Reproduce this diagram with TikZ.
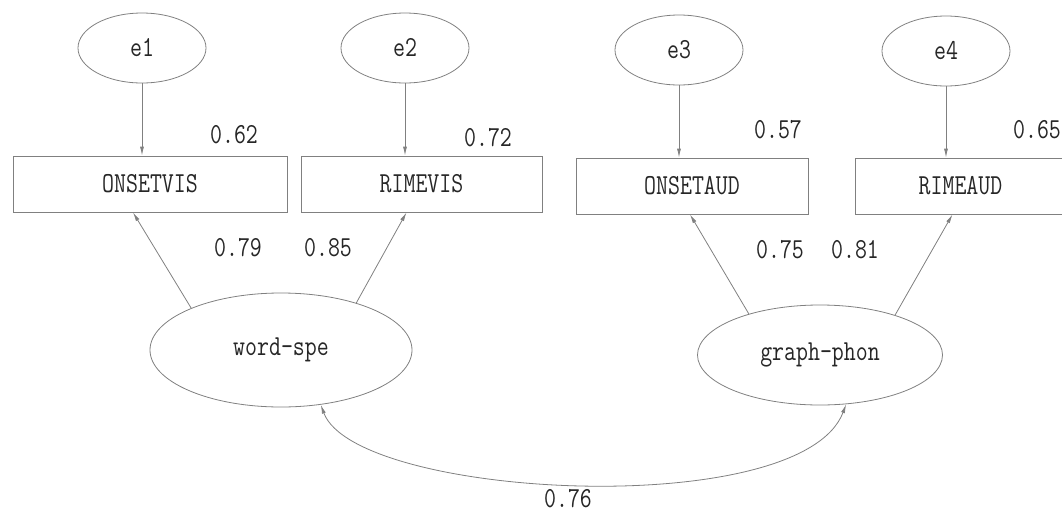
\documentclass[tikz,border=0pt]{standalone}
\usepackage{fontspec}
\setmainfont[FakeStretch=0.8]{Latin Modern Mono}
\usetikzlibrary{shapes.geometric,arrows.meta}

\begin{document}
\begin{tikzpicture}[x=0.5pt,y=-0.5pt,
        every node/.style={font=\fontsize{14.5}{17}\selectfont, text=black!85, inner sep=1pt},
        err/.style={ellipse, draw=gray, inner sep=0pt, minimum width=64pt, minimum height=35pt},
        obs/.style={rectangle, draw=gray, inner sep=0pt, minimum height=28pt},
        lat/.style={ellipse, draw=gray, inner sep=0pt},
        load/.style={draw=gray, -{Latex[length=4.5pt,width=2pt]}},
        cov/.style={draw=gray, {Latex[length=4.5pt,width=2pt]}-{Latex[length=4.5pt,width=2pt]}}]
        \useasboundingbox (0,0) rectangle (1062,515);
        % error terms
        \node[err] (e1) at (142,48) {e1};
        \node[err] (e2) at (405,48) {e2};
        \node[err] (e3) at (679,50) {e3};
        \node[err] (e4) at (946,51) {e4};
        % observed
        \node[obs, minimum width=137pt] (onsetvis) at (150,184) {ONSETVIS};
        \node[obs, minimum width=120.5pt] (rimevis) at (421.5,184) {RIMEVIS};
        \node[obs, minimum width=116pt] (onsetaud) at (692,186) {ONSETAUD};
        \node[obs, minimum width=105.5pt] (rimeaud) at (960.5,186) {RIMEAUD};
        % latent
        \node[lat, minimum width=131pt, minimum height=57pt] (wordspe) at (281,350) {word-spe};
        \node[lat, minimum width=122.5pt, minimum height=50pt] (graphphon) at (820,355) {graph-phon};
        % arrows
        \draw[load] (e1) -- (e1 |- onsetvis.north);
        \draw[load] (e2) -- (e2 |- rimevis.north);
        \draw[load] (e3) -- (e3 |- onsetaud.north);
        \draw[load] (e4) -- (e4 |- rimeaud.north);
        \draw[load] (wordspe.155) -- ([xshift=-8.5pt]onsetvis.south);
        \draw[load] (wordspe.32) -- ([xshift=-7.5pt]rimevis.south);
        \draw[load] (graphphon.150) -- ([xshift=-1pt]onsetaud.south);
        \draw[load] (graphphon.28) -- ([xshift=-4pt]rimeaud.south);
        \draw[cov] (wordspe.-54) .. controls +(35,94) and +(-45,118) .. (graphphon.-62);
        % values
        \node (r1) at (234,135) {0.62};
        \node (r2) at (488,138) {0.72};
        \node (r3) at (778,130) {0.57};
        \node (r4) at (1037,130) {0.65};
        \node (w1) at (238,248) {0.79};
        \node (w2) at (328,248) {0.85};
        \node (g1) at (780,250) {0.75};
        \node (g2) at (855,250) {0.81};
        \node (c1) at (568,499) {0.76};
    \end{tikzpicture}
\end{document}
